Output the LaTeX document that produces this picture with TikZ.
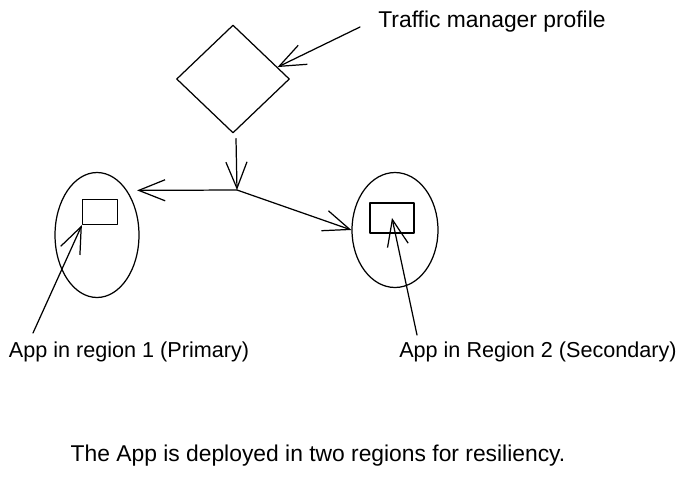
\documentclass[tikz,border=0pt]{standalone}
\usepackage{fontspec}
\setmainfont{Liberation Sans}
\usetikzlibrary{shapes.geometric,arrows.meta}
\tikzset{
  sketch/.style={draw, line width=0.7pt, line cap=round, line join=round},
  arr/.style={sketch, -{Straight Barb[length=15pt,width=12pt,line width=0.7pt]}},
  lbl/.style={font=\fontsize{13}{15}\selectfont, inner sep=0pt},
  reglbl/.style={font=\fontsize{12.3}{14}\selectfont, inner sep=0pt}
}
\begin{document}
\begin{tikzpicture}[x=0.02cm, y=-0.02cm]
\useasboundingbox (0,0) rectangle (687,478);
% Traffic manager
\node[sketch, diamond, aspect=1.05, inner sep=0pt, minimum width=2.26cm, minimum height=2.16cm] (tm) at (233,79) {};
\node[lbl] (tmLbl) at (492,22) {Traffic manager profile};
\coordinate (tmTail) at (360,27);
\draw[arr] (tmTail) -- (tm.15);

% Split point
\coordinate (split) at (237,190);
\draw[arr] (tm.south) ++(3,5) coordinate (tmOut) (tmOut) -- (split);

% Two regions
\node[sketch, ellipse, minimum width=1.68cm, minimum height=2.5cm] (regA) at (97,235) {};
\node[sketch, ellipse, minimum width=1.72cm, minimum height=2.3cm] (regB) at (395,230) {};
\node[sketch, rectangle, minimum width=0.7cm, minimum height=0.5cm, inner sep=0pt] (appA) at (100,212) {};
\node[sketch, rectangle, minimum width=0.88cm, minimum height=0.6cm, inner sep=0pt] (appB) at (392,218) {};
\draw[arr] (split) -- ([xshift=0.2cm]regA.north east);
\draw[arr] (split) -- (regB.west);

% Labels
\node[reglbl] (lblA) at (129,352) {App in region 1 (Primary)};
\node[reglbl] (lblB) at (538,352) {App in Region 2 (Secondary)};
\coordinate (tailA) at (33,333);
\coordinate (tailB) at (417,335);
\draw[arr] (tailA) -- (appA.south west);
\draw[arr] (tailB) -- (appB.center);

\node[lbl] (caption) at (318,456) {The App is deployed in two regions for resiliency.};
\end{tikzpicture}
\end{document}
